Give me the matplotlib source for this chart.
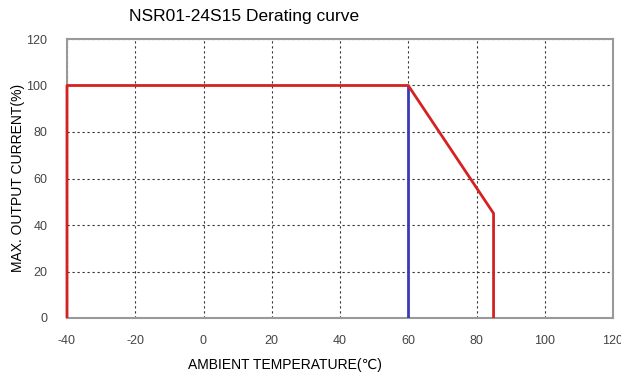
import matplotlib
matplotlib.use('Agg')
import matplotlib.pyplot as plt

# derating curve data
temp_red = [-40, -40, 60, 85, 85]
curr_red = [0, 100, 100, 45, 0]
temp_blue = [60, 60]
curr_blue = [0, 100]

xticks = [-40, -20, 0, 20, 40, 60, 80, 100, 120]
yticks = [0, 20, 40, 60, 80, 100, 120]

plt.rcParams['font.family'] = ['Liberation Sans', 'DejaVu Sans']
plt.rcParams['axes.unicode_minus'] = False

fig = plt.figure(figsize=(6.21, 3.78), dpi=100)
ax = fig.add_axes([67/621, 60/378, 546/621, 279/378])

ax.set_xlim(-40, 120)
ax.set_ylim(0, 120)
ax.set_xticks(xticks)
ax.set_yticks(yticks)
ax.tick_params(length=0, labelsize=9, colors='#444444')
ax.tick_params(axis='x', pad=12)
ax.tick_params(axis='y', pad=14)

ax.grid(True, color='#333333', linestyle=(0, (2, 2.5)), linewidth=0.8)
ax.set_axisbelow(True)
for s in ax.spines.values():
    s.set_color('#999999')
    s.set_linewidth(1.5)

ax.plot(temp_blue, curr_blue, color='#3a3ab8', linewidth=2, solid_capstyle='butt', zorder=3)
ax.plot(temp_red, curr_red, color='#d42222', linewidth=2, solid_capstyle='butt', clip_on=False, zorder=3)

fig.text(244/621, 1 - 17/378, 'NSR01-24S15 Derating curve', ha='center', va='center', fontsize=12.5)
fig.text(285/621, 1 - 365/378, 'AMBIENT TEMPERATURE(\u2103)', ha='center', va='center', fontsize=10)
fig.text(18/621, 1 - 178/378, 'MAX. OUTPUT CURRENT(%)', ha='center', va='center', fontsize=10, rotation=90)

fig.savefig('out.png', dpi=100)
